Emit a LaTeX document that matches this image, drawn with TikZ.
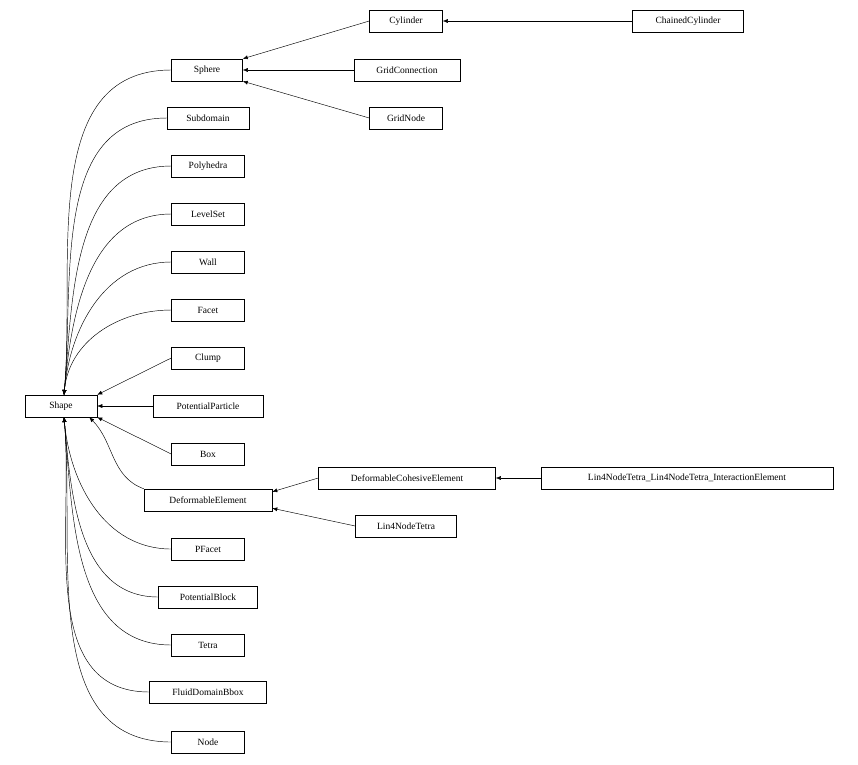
\documentclass[tikz,border=0pt]{standalone}
\usepackage{fontspec}
\setmainfont{Liberation Serif}
\usetikzlibrary{arrows.meta}
\begin{document}
\begin{tikzpicture}[x=1pt,y=-1pt,
  box/.style={draw,line width=0.5pt,minimum height=22pt,inner xsep=0pt,minimum width=#1,font=\fontsize{9.5}{11}\selectfont},
  box/.default=73pt,
  e/.style={-{Latex[length=5pt,width=4pt]},line width=0.45pt}]
\useasboundingbox (0,0) rectangle (858,764);
\node[box=72pt] (shape) at (61,406) {Shape};
\node[box=71pt] (sphere) at (207,70) {Sphere};
\node[box=82pt] (sub) at (208,118) {Subdomain};
\node[box] (poly) at (208,166) {Polyhedra};
\node[box] (ls) at (208,214) {LevelSet};
\node[box] (wall) at (208,262) {Wall};
\node[box] (facet) at (208,310) {Facet};
\node[box] (clump) at (208,358) {Clump};
\node[box=110pt] (pp) at (208,406) {PotentialParticle};
\node[box] (boxn) at (208,454) {Box};
\node[box=128pt] (de) at (208,500) {DeformableElement};
\node[box] (pf) at (208,549) {PFacet};
\node[box=99pt] (pb) at (208,597) {PotentialBlock};
\node[box] (tet) at (208,645) {Tetra};
\node[box=117pt] (fd) at (208,692) {FluidDomainBbox};
\node[box] (nd) at (208,742) {Node};
\node[box] (cyl) at (406,21) {Cylinder};
\node[box=111pt] (ccyl) at (688,21) {ChainedCylinder};
\node[box=106pt] (gc) at (407,70) {GridConnection};
\node[box] (gn) at (406,118) {GridNode};
\node[box=177pt] (dce) at (407,478) {DeformableCohesiveElement};
\node[box=292pt] (lin) at (687,478) {Lin4NodeTetra\_Lin4NodeTetra\_InteractionElement};
\node[box=101pt] (l4) at (406,526) {Lin4NodeTetra};
\coordinate (st) at (64,395);
\coordinate (sb) at (64,417);
\foreach \n in {sphere,sub,poly,ls,wall,facet}
  \draw[e] (\n.west) to[out=180,in=85] (st);
\draw[e] (clump.west) -- (shape.north east);
\draw[e] (pp.west) -- (shape.east);
\draw[e] (boxn.west) -- (shape.south east);
\draw[e] (de.north west) to[out=160,in=-45] ([xshift=-8pt]shape.south east);
\foreach \n in {pf,pb,tet,fd,nd}
  \draw[e] (\n.west) to[out=180,in=-85] (sb);
\draw[e] (cyl.west) -- (sphere.north east);
\draw[e] (gc.west) -- (sphere.east);
\draw[e] (gn.west) -- (sphere.south east);
\draw[e] (ccyl.west) -- (cyl.east);
\draw[e] (lin.west) -- (dce.east);
\draw[e] (dce.west) -- ([yshift=-3pt]de.north east);
\draw[e] (l4.west) -- ([yshift=3pt]de.south east);
\end{tikzpicture}
\end{document}
